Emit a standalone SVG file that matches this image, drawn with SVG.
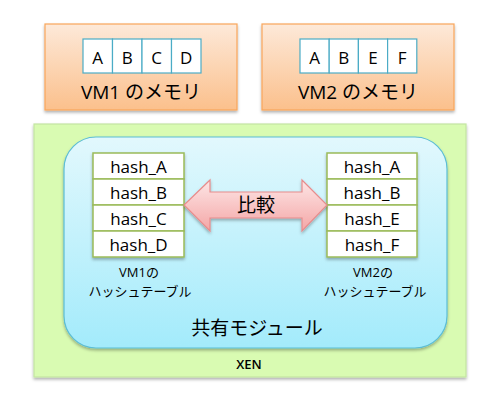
<svg xmlns="http://www.w3.org/2000/svg" width="499" height="405" viewBox="0 0 499 405">
<defs>
<linearGradient id="gOr" x1="0" y1="0" x2="0" y2="1"><stop offset="0" stop-color="#fde9d9"/><stop offset="1" stop-color="#fbc08c"/></linearGradient>
<linearGradient id="gCy" x1="0" y1="0" x2="0" y2="1"><stop offset="0" stop-color="#e2f8fd"/><stop offset="1" stop-color="#a3ebfb"/></linearGradient>
<linearGradient id="gPk" x1="0" y1="0" x2="0" y2="1"><stop offset="0" stop-color="#fde6e6"/><stop offset="1" stop-color="#f4a6a6"/></linearGradient>
<filter id="sh" x="-5%" y="-5%" width="110%" height="115%"><feDropShadow dx="0" dy="2" stdDeviation="1.5" flood-color="#000" flood-opacity="0.3"/></filter>
</defs>
<style>
text{font-family:"Open Sans","Noto Sans CJK JP",sans-serif;fill:#000;text-anchor:middle;dominant-baseline:central}
.mem{fill:url(#gOr);stroke:#f9a65a;stroke-width:1.2}
.cell{fill:#fff;stroke:#4bacc6;stroke-width:1.2}
.hc{fill:#fff;stroke:#9bbb59;stroke-width:1.5}
.big{font-size:19px}
.cl{font-size:17px}
.hl{font-size:17px}
.sm{font-size:13px}
</style>
<g id="vm1mem">
<rect class="mem" x="45" y="24" width="192" height="86" filter="url(#sh)"/>
<rect class="cell" x="83" y="39" width="29.5" height="34"/>
<rect class="cell" x="112.5" y="39" width="29.5" height="34"/>
<rect class="cell" x="142" y="39" width="29.5" height="34"/>
<rect class="cell" x="171.5" y="39" width="29.5" height="34"/>
<text class="cl" x="97.7" y="57">A</text><text class="cl" x="127.2" y="57">B</text><text class="cl" x="156.7" y="57">C</text><text class="cl" x="186.2" y="57">D</text>
<text class="big" x="141" y="92">VM1 のメモリ</text>
</g>
<g id="vm2mem">
<rect class="mem" x="262" y="24" width="192" height="86" filter="url(#sh)"/>
<rect class="cell" x="300" y="39" width="29.2" height="34"/>
<rect class="cell" x="329.2" y="39" width="29.2" height="34"/>
<rect class="cell" x="358.4" y="39" width="29.2" height="34"/>
<rect class="cell" x="387.6" y="39" width="29.2" height="34"/>
<text class="cl" x="314.6" y="57">A</text><text class="cl" x="343.8" y="57">B</text><text class="cl" x="373" y="57">E</text><text class="cl" x="402.2" y="57">F</text>
<text class="big" x="358" y="92">VM2 のメモリ</text>
</g>
<g id="xen">
<rect x="34" y="124" width="432" height="253" fill="#d9fbb2" stroke="#c4e5a2" stroke-width="1.2" filter="url(#sh)"/>
<text x="249" y="364" style="font-size:13px;font-weight:600">XEN</text>
</g>
<g id="shared">
<rect x="64" y="137" width="383" height="211" rx="32" fill="url(#gCy)" stroke="#5bbdd6" stroke-width="1.2" filter="url(#sh)"/>
<text class="big" x="257" y="328">共有モジュール</text>
</g>
<g id="ht1">
<g filter="url(#sh)">
<rect class="hc" x="93" y="153" width="91" height="26"/>
<rect class="hc" x="93" y="179" width="91" height="26"/>
<rect class="hc" x="93" y="205" width="91" height="26"/>
<rect class="hc" x="93" y="231" width="91" height="26"/>
</g>
<text class="hl" x="138.5" y="166">hash_A</text><text class="hl" x="138.5" y="192">hash_B</text><text class="hl" x="138.5" y="218">hash_C</text><text class="hl" x="138.5" y="244">hash_D</text>
<text class="sm" x="139" y="272">VM1の</text>
<text class="sm" x="140" y="291">ハッシュテーブル</text>
</g>
<g id="ht2">
<g filter="url(#sh)">
<rect class="hc" x="327" y="153" width="90" height="26"/>
<rect class="hc" x="327" y="179" width="90" height="26"/>
<rect class="hc" x="327" y="205" width="90" height="26"/>
<rect class="hc" x="327" y="231" width="90" height="26"/>
</g>
<text class="hl" x="372" y="166">hash_A</text><text class="hl" x="372" y="192">hash_B</text><text class="hl" x="372" y="218">hash_E</text><text class="hl" x="372" y="244">hash_F</text>
<text class="sm" x="373" y="272">VM2の</text>
<text class="sm" x="375" y="291">ハッシュテーブル</text>
</g>
<g id="connectors">
<path d="M184,205 L210,180 L210,192 L302,192 L302,180 L327,205 L302,231 L302,218 L210,218 L210,231 Z" fill="url(#gPk)" stroke="#e88c8c" stroke-width="1.2" filter="url(#sh)"/>
<text class="big" x="256" y="205">比較</text>
</g>
</svg>
